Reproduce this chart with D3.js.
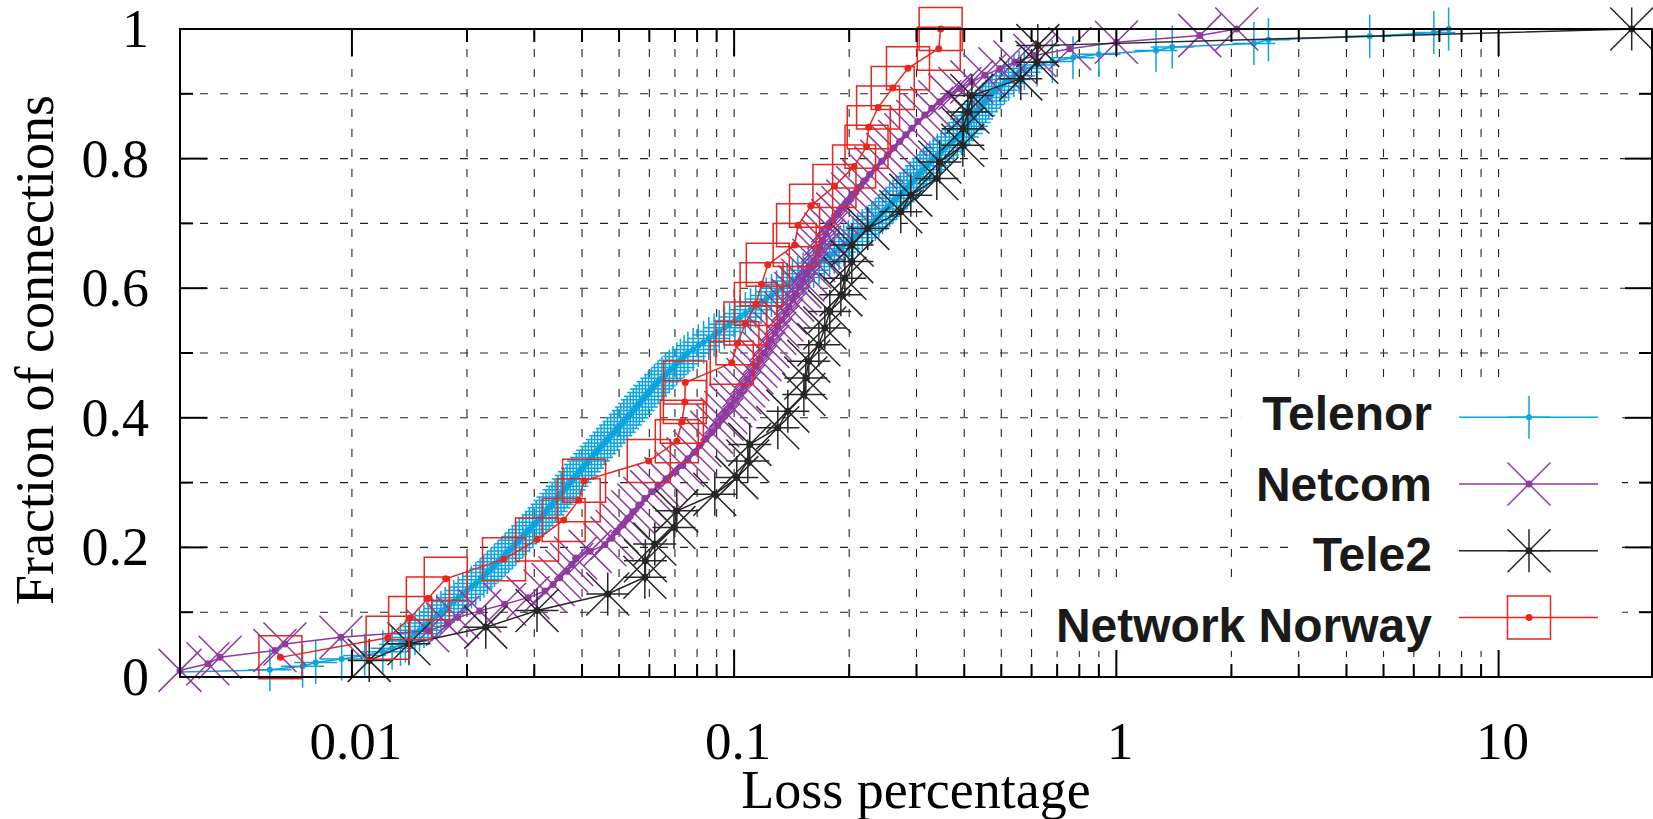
<!DOCTYPE html>
<html>
<head>
<meta charset="utf-8">
<script src="https://cdn.jsdelivr.net/npm/d3@7"></script>
<style>
  html, body { margin: 0; padding: 0; background: #fff; }
  svg { display: block; }
</style>
</head>
<body>
<svg id="chart" width="1653" height="819"></svg>
<script>
// loss percentage per connection, sorted (CDF); fraction = rank / count
const telenor = [
  0.0025, 0.0061, 0.00743, 0.00804, 0.0094, 0.0108, 0.01205, 0.01274, 0.0134, 0.0138,
  0.01419, 0.01462, 0.01503, 0.01543, 0.01583, 0.01624, 0.01667, 0.0171, 0.01754, 0.018,
  0.01849, 0.01897, 0.0195, 0.02, 0.02055, 0.02109, 0.02165, 0.02213, 0.02261, 0.02312,
  0.0236, 0.02412, 0.02464, 0.02518, 0.02573, 0.0263, 0.02685, 0.02742, 0.02799, 0.02855,
  0.02914, 0.02974, 0.03035, 0.03097, 0.03162, 0.03221, 0.0328, 0.03341, 0.03401, 0.03463,
  0.03526, 0.0359, 0.03656, 0.03723, 0.03793, 0.03864, 0.03936, 0.04009, 0.04083, 0.04159,
  0.04236, 0.04315, 0.04395, 0.04484, 0.04572, 0.04664, 0.04756, 0.04853, 0.04949, 0.05047,
  0.05146, 0.05248, 0.05349, 0.05447, 0.05548, 0.05649, 0.05754, 0.0586, 0.05969, 0.06077,
  0.0619, 0.06325, 0.06471, 0.06617, 0.06767, 0.0692, 0.07075, 0.07237, 0.07398, 0.07568,
  0.07813, 0.08059, 0.0832, 0.08583, 0.0886, 0.0914, 0.09434, 0.09732, 0.1005, 0.1037,
  0.107, 0.1104, 0.1139, 0.1176, 0.1213, 0.1252, 0.1291, 0.1334, 0.1377, 0.1421,
  0.1468, 0.1515, 0.1565, 0.1615, 0.1668, 0.1722, 0.1778, 0.1829, 0.1881, 0.1935,
  0.199, 0.2047, 0.2104, 0.2165, 0.2226, 0.2291, 0.2341, 0.2391, 0.2444, 0.2496,
  0.2551, 0.2605, 0.2662, 0.272, 0.278, 0.2836, 0.2891, 0.2948, 0.3006, 0.3065,
  0.3126, 0.3187, 0.325, 0.332, 0.3402, 0.3484, 0.3569, 0.3656, 0.3746, 0.3837,
  0.393, 0.3993, 0.4055, 0.4117, 0.4179, 0.4243, 0.4307, 0.4381, 0.4464, 0.4551,
  0.4636, 0.4725, 0.485, 0.497, 0.5096, 0.5224, 0.5393, 0.5565, 0.5744, 0.62,
  0.68, 0.77, 0.9, 1.27, 1.4, 2.29, 2.5, 4.6, 6.77, 7.4
];
const netcom = [
  0.00355, 0.0042, 0.00452, 0.00629, 0.00668, 0.00936, 0.0158, 0.0178, 0.0189, 0.0216,
  0.0251, 0.0289, 0.032, 0.0336, 0.035, 0.0365, 0.0376, 0.0385, 0.042, 0.0459,
  0.0479, 0.0494, 0.0512, 0.0527, 0.0543, 0.0563, 0.0584, 0.0609, 0.0632, 0.0663,
  0.0704, 0.0734, 0.0757, 0.0789, 0.0813, 0.0843, 0.0874, 0.0906, 0.0929, 0.0951,
  0.098, 0.1004, 0.1035, 0.106, 0.1086, 0.1113, 0.114, 0.1168, 0.1196, 0.1225,
  0.1247, 0.1278, 0.1301, 0.1333, 0.1365, 0.139, 0.1424, 0.145, 0.1485, 0.1512,
  0.1549, 0.1578, 0.1616, 0.1655, 0.1675, 0.1706, 0.1737, 0.1769, 0.1812, 0.1867,
  0.1924, 0.1983, 0.2043, 0.2106, 0.2184, 0.2264, 0.2347, 0.2433, 0.2523, 0.2616,
  0.2712, 0.2812, 0.2916, 0.3023, 0.3154, 0.3289, 0.3451, 0.3667, 0.3894, 0.4186,
  0.4527, 0.4955, 0.5423, 0.6117, 0.7552, 1.0, 1.653, 2.065
];
const tele2 = [
  0.0111, 0.0141, 0.0224, 0.0305, 0.0467, 0.0584, 0.0586, 0.062, 0.0696, 0.0708,
  0.089, 0.1016, 0.1086, 0.1099, 0.1301, 0.1382, 0.1522, 0.154, 0.1568, 0.1666,
  0.1727, 0.178, 0.1902, 0.1949, 0.2032, 0.2035, 0.2237, 0.2729, 0.2899, 0.339,
  0.3452, 0.3965, 0.397, 0.4087, 0.4187, 0.5623, 0.6193, 0.623, 22.3
];
const networkNorway = [
  0.0065, 0.0124, 0.0142, 0.0158, 0.0176, 0.025, 0.0305, 0.0358, 0.0392, 0.0405,
  0.0598, 0.0708, 0.073, 0.0743, 0.0745, 0.0986, 0.102, 0.107, 0.114, 0.118,
  0.1225, 0.144, 0.147, 0.159, 0.183, 0.206, 0.222, 0.225, 0.238, 0.26,
  0.285, 0.343, 0.347
];

const seriesNames = ['Telenor', 'Netcom', 'Tele2', 'Network Norway'];
const xTickValues = [0.01, 0.1, 1, 10];
const xTickLabels = ['0.01', '0.1', '1', '10'];
const yTickValues = [0, 0.2, 0.4, 0.6, 0.8, 1];
const yTickLabels = ['0', '0.2', '0.4', '0.6', '0.8', '1'];
const xLabel = 'Loss percentage';
const yLabel = 'Fraction of connections';

const W = 1653, H = 819;
const M = { left: 180, right: 1652, top: 29, bottom: 677 };
const SERIF = '"Liberation Serif", "Times New Roman", serif';
const SANS = '"Liberation Sans", Arial, sans-serif';

const x = d3.scaleLog().domain([0.00355, 25.2]).range([M.left, M.right]);
const y = d3.scaleLinear().domain([0, 1]).range([M.bottom, M.top]);

const svg = d3.select('#chart');
svg.append('rect').attr('width', W).attr('height', H).attr('fill', '#fff');

svg.append('defs').append('clipPath').attr('id', 'plot-clip')
  .append('rect')
  .attr('x', M.left).attr('y', M.top)
  .attr('width', M.right - M.left).attr('height', M.bottom - M.top);

// minor x ticks only between the labelled decades
const minorX = [];
[0.01, 0.1, 1].forEach(d => { for (let m = 2; m <= 9; m++) minorX.push(+(d * m).toPrecision(2)); });
const minorY = [0.1, 0.3, 0.5, 0.7, 0.9];

// grid
const grid = svg.append('g')
  .attr('stroke', '#222').attr('stroke-width', 1.1).attr('stroke-dasharray', '8,12');
grid.selectAll('line.gx').data(xTickValues.concat(minorX)).enter().append('line')
  .attr('x1', d => x(d)).attr('x2', d => x(d))
  .attr('y1', M.bottom).attr('y2', M.top);
grid.selectAll('line.gy').data(d3.range(1, 10).map(i => i / 10)).enter().append('line')
  .attr('x1', M.left).attr('x2', M.right)
  .attr('y1', d => y(d)).attr('y2', d => y(d));

// markers
const R = 21.5;
const MARKERS = {
  plus:   `M${-R},0H${R}M0,${-R}V${R}`,
  cross:  `M${-R},${-R}L${R},${R}M${-R},${R}L${R},${-R}`,
  star:   `M${-R},0H${R}M0,${-R}V${R}M${-R},${-R}L${R},${R}M${-R},${R}L${R},${-R}`,
  square: `M${-R},${-R}H${R}V${R}H${-R}Z`
};

const series = [
  { name: seriesNames[0], values: telenor,       color: '#0aa3e0', marker: 'plus',   dot: 3 },
  { name: seriesNames[1], values: netcom,        color: '#8e3a9f', marker: 'cross',  dot: 3.5 },
  { name: seriesNames[2], values: tele2,         color: '#262626', marker: 'star',   dot: 3.5 },
  { name: seriesNames[3], values: networkNorway, color: '#e8261c', marker: 'square', dot: 3.5 }
];

const line = d3.line().x(d => x(d[0])).y(d => y(d[1]));
const [x0, x1] = x.domain();

series.forEach(s => {
  const n = s.values.length;
  const pts = s.values.map((v, i) => [v, (i + 1) / n]);
  const g = svg.append('g').attr('class', 'series');
  g.append('path')
    .attr('d', line(pts))
    .attr('clip-path', 'url(#plot-clip)')
    .attr('fill', 'none').attr('stroke', s.color).attr('stroke-width', 1.5);
  const vis = pts.filter(p => p[0] >= x0 * 0.999 && p[0] <= x1);
  g.selectAll('path.mk').data(vis).enter().append('path')
    .attr('class', 'mk')
    .attr('transform', d => `translate(${x(d[0])},${y(d[1])})`)
    .attr('d', MARKERS[s.marker])
    .attr('fill', 'none').attr('stroke', s.color).attr('stroke-width', 1.5);
  g.selectAll('circle').data(vis).enter().append('circle')
    .attr('cx', d => x(d[0])).attr('cy', d => y(d[1]))
    .attr('r', s.dot).attr('fill', s.color);
});

// legend (opaque row boxes, like gnuplot "key opaque")
const legend = svg.append('g').attr('class', 'legend');
series.forEach((s, i) => {
  const ly = 417.3 + i * 66.7;
  const row = legend.append('g');
  const box = row.append('rect').attr('fill', '#fff');
  const t = row.append('text')
    .attr('x', 1432).attr('y', 430 + i * 70.6)
    .attr('text-anchor', 'end')
    .attr('font-family', SANS).attr('font-weight', 'bold').attr('font-size', 48)
    .attr('fill', '#1a1a1a')
    .text(s.name);
  const tw = t.node().getComputedTextLength();
  box.attr('x', 1432 - tw - 22).attr('y', ly - 33.5)
    .attr('width', 1622 - (1432 - tw - 22)).attr('height', 67);
  row.append('line')
    .attr('x1', 1459).attr('x2', 1598).attr('y1', ly).attr('y2', ly)
    .attr('stroke', s.color).attr('stroke-width', 1.5);
  row.append('path')
    .attr('transform', `translate(1529,${ly})`)
    .attr('d', MARKERS[s.marker])
    .attr('fill', 'none').attr('stroke', s.color).attr('stroke-width', 1.5);
  row.append('circle').attr('cx', 1529).attr('cy', ly).attr('r', s.dot).attr('fill', s.color);
});

// border and ticks (all four sides, inward)
const axes = svg.append('g').attr('stroke', '#000').attr('stroke-width', 2);
axes.append('rect')
  .attr('x', M.left).attr('y', M.top)
  .attr('width', M.right - M.left).attr('height', M.bottom - M.top)
  .attr('fill', 'none');
const xt = xTickValues.map(v => ({ v, len: 27 })).concat(minorX.map(v => ({ v, len: 13 })));
xt.forEach(t => {
  axes.append('line').attr('x1', x(t.v)).attr('x2', x(t.v)).attr('y1', M.bottom).attr('y2', M.bottom - t.len);
  axes.append('line').attr('x1', x(t.v)).attr('x2', x(t.v)).attr('y1', M.top).attr('y2', M.top + t.len);
});
const yt = yTickValues.map(v => ({ v, len: 27 })).concat(minorY.map(v => ({ v, len: 13 })));
yt.forEach(t => {
  axes.append('line').attr('x1', M.left).attr('x2', M.left + t.len).attr('y1', y(t.v)).attr('y2', y(t.v));
  axes.append('line').attr('x1', M.right).attr('x2', M.right - t.len).attr('y1', y(t.v)).attr('y2', y(t.v));
});

// tick labels
const labels = svg.append('g').attr('font-family', SERIF).attr('font-size', 54).attr('fill', '#000');
labels.selectAll('text.xl').data(xTickValues).enter().append('text')
  .attr('x', d => x(d) + 4).attr('y', 759)
  .attr('font-size', 53)
  .attr('text-anchor', 'middle')
  .text((d, i) => xTickLabels[i]);
labels.selectAll('text.yl').data(yTickValues).enter().append('text')
  .attr('x', 149).attr('y', d => y(d) + 18)
  .attr('text-anchor', 'end')
  .text((d, i) => yTickLabels[i]);

// axis titles
labels.append('text')
  .attr('x', 916).attr('y', 808)
  .attr('text-anchor', 'middle')
  .text(xLabel);
labels.append('text')
  .attr('transform', 'translate(53,350) rotate(-90)')
  .attr('text-anchor', 'middle')
  .text(yLabel);
</script>
</body>
</html>
